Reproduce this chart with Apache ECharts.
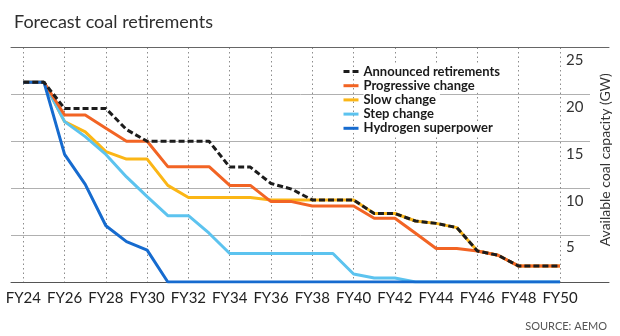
<!DOCTYPE html>
<html>
<head>
<meta charset="utf-8">
<script src="https://cdn.jsdelivr.net/npm/echarts@6/dist/echarts.min.js"></script>
<style>
  html, body { margin: 0; padding: 0; background: #fff; }
  #chart { width: 620px; height: 336px; }
</style>
</head>
<body>
<div id="chart"></div>
<script>
// Financial years on the horizontal axis
const years = ['FY24','FY25','FY26','FY27','FY28','FY29','FY30','FY31','FY32','FY33',
  'FY34','FY35','FY36','FY37','FY38','FY39','FY40','FY41','FY42','FY43',
  'FY44','FY45','FY46','FY47','FY48','FY49','FY50'];

// Available coal capacity (GW) per scenario
const announced = [21.3,21.3,18.5,18.5,18.5,16.25,15,15,15,15,12.25,12.25,10.5,9.9,8.75,8.75,8.75,7.3,7.3,6.5,6.25,5.8,3.3,2.85,1.7,1.7,1.7];
const progressive = [21.3,21.3,17.8,17.8,16.4,15,15,12.3,12.3,12.3,10.3,10.3,8.57,8.57,8.1,8.1,8.1,6.8,6.8,5.2,3.57,3.57,3.3,2.85,1.7,1.7,1.7];
const slow = [21.3,21.3,17.1,16.0,13.9,13.1,13.1,10.3,9.0,9.0,9.0,9.0,8.75,8.75,8.75,8.75,8.75,7.3,7.3,6.5,6.25,5.8,3.3,2.85,1.7,1.7,1.7];
const step = [21.3,21.3,17.1,15.5,13.6,11.2,9.1,7.07,7.07,5.2,3.04,3.04,3.04,3.04,3.04,3.04,0.85,0.43,0.43,0,0,0,0,0,0,0,0];
const hydrogen = [21.3,21.3,13.6,10.4,6.0,4.3,3.4,0,0,0,0,0,0,0,0,0,0,0,0,0,0,0,0,0,0,0,0];

const seriesNames = ['Announced retirements','Progressive change','Slow change','Step change','Hydrogen superpower'];
const yTicks = { min: 0, max: 25, interval: 5 };

const FONT = 'Lato, "Open Sans", sans-serif';
const TOP = 47.5, HEIGHT = 234.5;

function lineSeries(name, data, color, z, dash) {
  return {
    name, type: 'line', data,
    xAxisIndex: 3, yAxisIndex: 2,
    symbol: 'none', z,
    lineStyle: { width: 3, color, type: dash || 'solid', cap: 'butt' },
    itemStyle: { color },
    emphasis: { disabled: true }
  };
}

const chart = echarts.init(document.getElementById('chart'), null, { renderer: 'canvas' });
chart.setOption({
  animation: false,
  backgroundColor: '#fff',
  title: [
    { text: 'Forecast coal retirements', left: 9, top: 8,
      textStyle: { fontFamily: FONT, fontSize: 18, fontWeight: 'normal', color: '#2e2e2e' } },
    { text: 'SOURCE: AEMO', right: 8, top: 316,
      textStyle: { fontFamily: FONT, fontSize: 11, fontWeight: 'normal', color: '#555' } }
  ],
  legend: {
    orient: 'vertical', left: 337, top: 59.5,
    itemWidth: 15, itemHeight: 14, itemGap: 0.2,
    data: seriesNames,
    itemStyle: { opacity: 0 },
    lineStyle: { width: 3 },
    textStyle: { fontFamily: FONT, fontSize: 13, fontWeight: 'bold', color: '#1a1a1a',
      lineHeight: 14, backgroundColor: '#fff', padding: [0, 4, 0, 0] }
  },
  grid: [
    { left: 11, right: 30, top: TOP, height: HEIGHT },   // horizontal rules
    { left: 11, right: 11, top: TOP, height: HEIGHT },   // top and bottom frame lines
    { left: 23.3, right: 53.3, top: TOP, height: HEIGHT } // plotted scenarios
  ],
  xAxis: [
    { gridIndex: 0, type: 'value', show: false },
    { gridIndex: 1, type: 'value', position: 'bottom',
      axisLine: { show: true, onZero: false, lineStyle: { color: '#555', width: 1 } },
      axisTick: { show: false }, axisLabel: { show: false }, splitLine: { show: false } },
    { gridIndex: 1, type: 'value', position: 'top',
      axisLine: { show: true, onZero: false, lineStyle: { color: '#666', width: 1 } },
      axisTick: { show: false }, axisLabel: { show: false }, splitLine: { show: false } },
    { gridIndex: 2, type: 'category', data: years, boundaryGap: false,
      axisLine: { show: false }, axisTick: { show: false },
      axisLabel: { interval: 1, margin: 9, fontFamily: FONT, fontSize: 15, color: '#222' },
      splitLine: { show: true, interval: 1, lineStyle: { color: '#8c8c8c', width: 1, type: [1.5, 3] } } }
  ],
  yAxis: [
    { gridIndex: 0, type: 'value', ...yTicks, position: 'right',
      axisLine: { show: false }, axisTick: { show: false }, axisLabel: { show: false },
      splitLine: { show: true, lineStyle: { color: '#b0b0b0', width: 1 } } },
    { gridIndex: 1, type: 'value', ...yTicks, show: false },
    { gridIndex: 2, type: 'value', ...yTicks, position: 'right',
      axisLine: { show: false }, axisTick: { show: false }, splitLine: { show: false },
      axisLabel: { showMinLabel: false, margin: 6, verticalAlign: 'top', padding: [5, 0, 0, 0],
        fontFamily: FONT, fontSize: 15, color: '#333' },
      name: 'Available coal capacity (GW)', nameLocation: 'middle', nameGap: 38, nameRotate: 90,
      nameTextStyle: { fontFamily: FONT, fontSize: 14, color: '#333', padding: [0, 0, 0, 10] } }
  ],
  series: [
    lineSeries(seriesNames[0], announced, '#1c1c1c', 10, [6, 3]),
    lineSeries(seriesNames[1], progressive, '#f26424', 7),
    lineSeries(seriesNames[2], slow, '#fbb616', 5),
    lineSeries(seriesNames[3], step, '#5cc3ef', 6),
    lineSeries(seriesNames[4], hydrogen, '#166bcf', 8)
  ]
});
</script>
</body>
</html>
